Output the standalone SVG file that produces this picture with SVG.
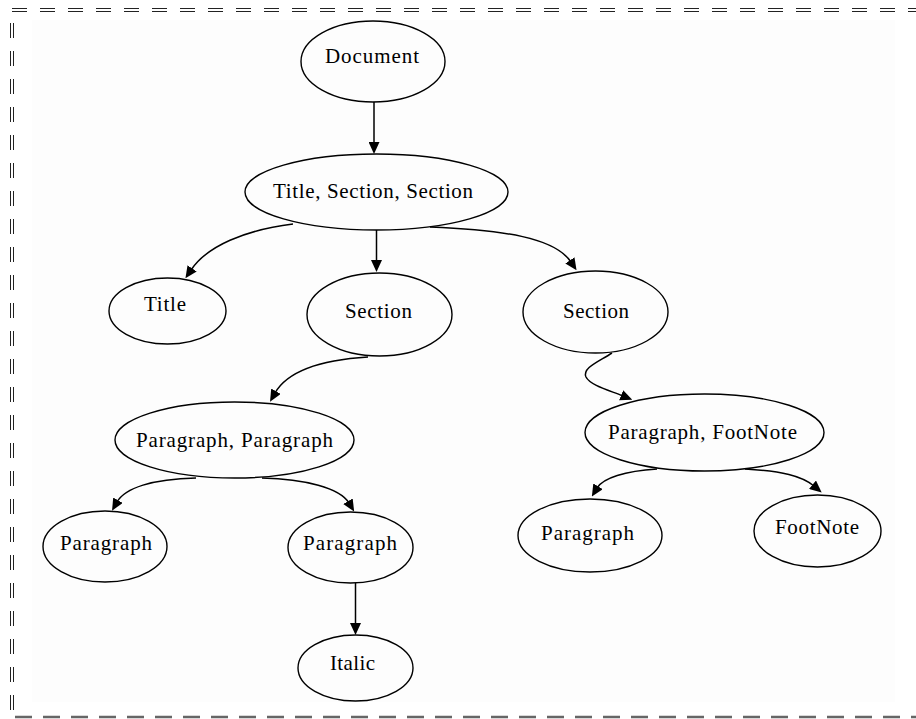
<svg xmlns="http://www.w3.org/2000/svg" width="916" height="719" viewBox="0 0 916 719">
  <style>
    .node ellipse { fill: none; stroke: #000; stroke-width: 1.4; }
    .node text { font-size: 21px; fill: #000; text-anchor: middle; }
    .edge { fill: none; stroke: #000; stroke-width: 1.5; marker-end: url(#arrow); }
    .frame-thin { stroke: #222; stroke-width: 1; stroke-dasharray: 15 13; fill: none; }
    .frame-bottom { stroke: #666; stroke-width: 2.5; stroke-dasharray: 17 11; fill: none; }
  </style>
  <defs>
    <marker id="arrow" viewBox="0 0 12 11" refX="2" refY="5.5" markerUnits="userSpaceOnUse" markerWidth="12" markerHeight="11" orient="auto">
      <path d="M0,0 L12,5.5 L0,11 z" fill="#000"/>
    </marker>
  </defs>

  <rect width="916" height="719" fill="#fff"/>
  <rect x="32" y="20" width="863" height="682" fill="#fdfdfd"/>

  <!-- dashed frame -->
  <g id="frame">
    <line class="frame-thin" x1="12" y1="8.5" x2="916" y2="8.5"/>
    <line class="frame-thin" x1="12" y1="11.5" x2="916" y2="11.5"/>
    <line class="frame-thin" x1="10.5" y1="23" x2="10.5" y2="710"/>
    <line class="frame-thin" x1="13.5" y1="23" x2="13.5" y2="710"/>
    <line class="frame-bottom" x1="15" y1="717" x2="916" y2="717"/>
  </g>

  <!-- connectors -->
  <g id="edges">
    <path class="edge" d="M374,102 L374,144"/>
    <path class="edge" d="M293,224 C245,230 207,246 191,270"/>
    <path class="edge" d="M376.5,230 L376.5,262"/>
    <path class="edge" d="M430,227 C505,230 555,238 571,262"/>
    <path class="edge" d="M368,357 C320,360 287,372 275,393"/>
    <path class="edge" d="M612,353 C598,362 582,368 586,377 C590,385 608,390 623,396"/>
    <path class="edge" d="M196,478 C152,479 125,488 117,502"/>
    <path class="edge" d="M262,478 C305,479 340,488 349,503"/>
    <path class="edge" d="M355.5,583 L355.5,625"/>
    <path class="edge" d="M657,469 C625,471 603,478 597,488"/>
    <path class="edge" d="M745,469 C782,471 802,476 814,486"/>
  </g>

  <!-- nodes -->
  <g font-family="'Liberation Serif', 'DejaVu Serif', serif">
  <g id="n-document" class="node">
    <ellipse cx="373" cy="61.5" rx="72" ry="40.5"/>
    <text x="372" y="63" textLength="94" lengthAdjust="spacing">Document</text>
  </g>
  <g id="n-title-section-section" class="node">
    <ellipse cx="376.5" cy="192" rx="131.5" ry="38"/>
    <text x="373" y="198" textLength="200" lengthAdjust="spacing">Title, Section, Section</text>
  </g>
  <g id="n-title" class="node">
    <ellipse cx="167.5" cy="311" rx="58.5" ry="33"/>
    <text x="165" y="311" textLength="42" lengthAdjust="spacing">Title</text>
  </g>
  <g id="n-section-1" class="node">
    <ellipse cx="379.5" cy="314.5" rx="72.5" ry="41.5"/>
    <text x="378.5" y="318" textLength="67" lengthAdjust="spacing">Section</text>
  </g>
  <g id="n-section-2" class="node">
    <ellipse cx="595.5" cy="312" rx="72.5" ry="41"/>
    <text x="596" y="318" textLength="66" lengthAdjust="spacing">Section</text>
  </g>
  <g id="n-paragraph-paragraph" class="node">
    <ellipse cx="234.5" cy="440" rx="119.5" ry="38"/>
    <text x="234.5" y="447" textLength="197" lengthAdjust="spacing">Paragraph, Paragraph</text>
  </g>
  <g id="n-paragraph-footnote" class="node">
    <ellipse cx="704.5" cy="432.5" rx="119.5" ry="38.5"/>
    <text x="702.5" y="439" textLength="189" lengthAdjust="spacing">Paragraph, FootNote</text>
  </g>
  <g id="n-paragraph-1" class="node">
    <ellipse cx="105" cy="546.5" rx="62" ry="35.5"/>
    <text x="106" y="550" textLength="92" lengthAdjust="spacing">Paragraph</text>
  </g>
  <g id="n-paragraph-2" class="node">
    <ellipse cx="350.5" cy="547.5" rx="62.5" ry="35.5"/>
    <text x="350" y="550" textLength="94" lengthAdjust="spacing">Paragraph</text>
  </g>
  <g id="n-italic" class="node">
    <ellipse cx="355.5" cy="668" rx="57.5" ry="33"/>
    <text x="352.5" y="670" textLength="45" lengthAdjust="spacing">Italic</text>
  </g>
  <g id="n-paragraph-3" class="node">
    <ellipse cx="590" cy="535.5" rx="72" ry="36.5"/>
    <text x="587.5" y="540" textLength="93" lengthAdjust="spacing">Paragraph</text>
  </g>
  <g id="n-footnote" class="node">
    <ellipse cx="817.5" cy="531" rx="63.5" ry="36"/>
    <text x="817" y="534" textLength="84" lengthAdjust="spacing">FootNote</text>
  </g>
  </g>
</svg>
